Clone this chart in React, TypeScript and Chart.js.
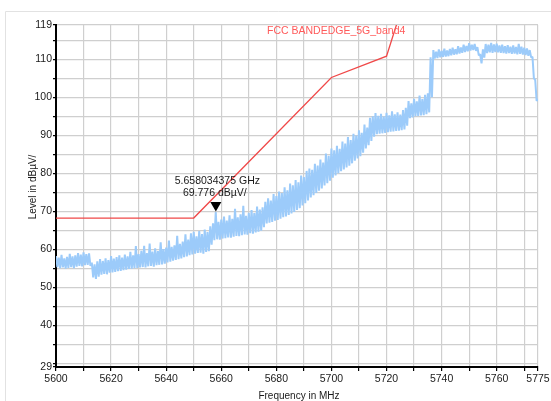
import { useEffect, useRef } from "react";
import { Chart, registerables } from "chart.js";

Chart.register(...registerables);

// Frequency axis (MHz)
const FREQ_START = 5600;
const FREQ_END = 5775;
const xTickValues = [
  5600, 5610, 5620, 5630, 5640, 5650, 5660, 5670, 5680, 5690, 5700, 5710,
  5720, 5730, 5740, 5750, 5760, 5770, 5775,
];

// Level axis (dBµV/)
const LEVEL_MIN = 29;
const LEVEL_MAX = 119;
const yTickValues = [
  29, 30, 35, 40, 45, 50, 55, 60, 65, 70, 75, 80, 85, 90, 95, 100, 105, 110,
  115, 119,
];

// FCC band-edge limit line
const limitName = "FCC BANDEDGE_5G_band4";
const limitFreq = [5600, 5650, 5700, 5720, 5725];
const limitLevel = [68.2, 68.2, 105.2, 110.8, 122.2];

// Measured trace: per-MHz peak and floor of the noisy sweep, 5600..5775 MHz
const traceHigh = [
  58.2, 57.8, 58.5, 57.6, 58.0, 58.8, 58.1, 58.4, 59.0, 58.6,
  59.2, 58.7, 58.9, 56.5, 56.0, 56.8, 57.4, 56.9, 57.6, 57.1,
  58.2, 57.5, 57.9, 58.4, 57.8, 58.6, 58.1, 59.3, 58.4, 60.8,
  58.7, 59.6, 60.9, 59.0, 61.5, 59.4, 60.2, 59.5, 61.8, 60.0,
  60.4, 62.3, 60.6, 61.0, 63.5, 61.4, 62.0, 63.9, 62.5, 64.2,
  64.6, 63.4, 64.8, 64.0, 65.2, 64.5, 66.0, 66.8, 69.8, 67.2,
  67.8, 68.6, 67.5, 68.9, 68.0, 70.6, 68.4, 69.2, 71.4, 68.8,
  69.6, 70.3, 69.5, 71.2, 70.4, 71.0, 72.5, 73.4, 72.8, 74.5,
  74.0, 75.2, 74.8, 76.3, 75.5, 77.3, 76.8, 78.2, 77.6, 79.4,
  79.0, 80.6, 81.2, 80.9, 82.5, 82.0, 83.6, 82.8, 85.2, 84.6,
  86.5, 86.0, 87.2, 86.4, 88.3, 87.8, 89.5, 88.7, 90.4, 89.9,
  91.3, 90.6, 92.8, 92.0, 94.6, 95.0, 95.8, 95.1, 95.6, 94.9,
  95.9, 95.2, 96.3, 95.5, 96.0, 95.4, 96.6, 97.2, 99.0, 98.4,
  99.6, 98.9, 100.4, 99.5, 100.6, 101.0, 110.5, 112.4, 112.0, 112.6,
  112.2, 112.8, 112.3, 112.7, 113.0, 112.6, 113.4, 113.1, 113.8, 113.5,
  114.2, 113.8, 114.0, 113.2, 111.3, 112.6, 114.0, 113.8, 114.3, 113.9,
  114.1, 113.6, 113.8, 113.4, 113.7, 113.3, 113.6, 113.2, 114.0, 113.3,
  113.0, 112.8, 112.4, 110.6, 104.5, 99.5,
];
const traceLow = [
  55.3, 55.0, 55.2, 54.9, 55.1, 55.3, 55.0, 55.4, 55.6, 55.5,
  55.8, 55.9, 55.6, 52.6, 52.2, 52.8, 53.3, 53.5, 53.4, 53.8,
  53.9, 54.0, 54.2, 54.3, 54.5, 54.6, 54.8, 54.9, 55.0, 55.1,
  55.2, 55.3, 55.2, 55.5, 55.6, 55.4, 55.8, 55.9, 56.0, 56.2,
  56.5, 56.7, 57.0, 57.2, 57.4, 57.6, 57.9, 58.1, 58.4, 58.6,
  58.8, 59.0, 59.1, 58.8, 59.3, 59.5, 61.2, 62.4, 62.6, 62.5,
  62.8, 62.9, 63.1, 63.0, 63.3, 63.5, 63.4, 63.7, 63.9, 63.8,
  64.2, 64.1, 64.4, 64.6, 64.9, 65.8, 66.8, 67.0, 67.2, 67.5,
  67.7, 68.0, 68.4, 68.6, 69.0, 69.4, 69.8, 70.3, 70.8, 71.5,
  72.1, 72.8, 73.6, 74.2, 74.8, 75.4, 76.0, 76.8, 77.4, 78.0,
  78.8, 79.4, 80.0, 80.5, 81.0, 81.5, 82.0, 82.6, 83.3, 83.9,
  84.5, 85.4, 86.5, 87.4, 88.5, 89.6, 90.3, 90.4, 90.5, 90.6,
  90.8, 90.9, 91.0, 91.1, 91.2, 91.3, 91.5, 92.5, 94.5, 94.7,
  95.0, 95.1, 95.2, 95.3, 95.5, 96.0, 100.0, 110.2, 110.3, 110.5,
  110.6, 110.7, 110.8, 111.0, 111.2, 111.3, 111.5, 111.7, 111.9, 112.1,
  112.3, 112.4, 112.2, 111.0, 108.9, 110.4, 111.6, 111.8, 111.7, 111.9,
  111.8, 111.7, 111.6, 111.5, 111.6, 111.4, 111.5, 111.3, 111.4, 111.2,
  111.1, 110.9, 110.5, 105.0, 99.0, 95.8,
];

// Peak marker
const markerFreqMHz = 5658.034375;
const markerLevel = 69.776;
const markerLines = ["5.658034375 GHz", "69.776 dBµV/"];

const xTitle = "Frequency in MHz";
const yTitle = "Level in dBµV/";

const FONT = '"Liberation Sans", Arial, Helvetica, sans-serif';

const overlayPlugin = {
  id: "overlay",
  beforeDraw(chart: any) {
    const { ctx } = chart;
    ctx.save();
    ctx.fillStyle = "#ffffff";
    ctx.fillRect(0, 0, chart.width, chart.height);
    ctx.strokeStyle = "#e2e2e2";
    ctx.lineWidth = 1;
    ctx.beginPath();
    ctx.moveTo(5.5, chart.height);
    ctx.lineTo(5.5, 11.5);
    ctx.lineTo(chart.width, 11.5);
    ctx.stroke();
    ctx.restore();
  },
  afterDatasetsDraw(chart: any) {
    const { ctx, chartArea } = chart;
    const xs = chart.scales.x;
    const ys = chart.scales.y;
    ctx.save();

    // limit line caption
    ctx.font = `10.5px ${FONT}`;
    ctx.fillStyle = "#ff5a5a";
    ctx.textAlign = "left";
    ctx.textBaseline = "middle";
    ctx.fillText(limitName, chartArea.left + 211, chartArea.top + 6);

    // marker triangle and readout
    const px = xs.getPixelForValue(markerFreqMHz);
    const py = ys.getPixelForValue(markerLevel);
    ctx.fillStyle = "#000000";
    ctx.beginPath();
    ctx.moveTo(px - 5.5, py - 10);
    ctx.lineTo(px + 5.5, py - 10);
    ctx.lineTo(px, py - 0.5);
    ctx.closePath();
    ctx.fill();

    ctx.fillStyle = "#1a1a1a";
    ctx.textAlign = "center";
    ctx.font = `10.5px ${FONT}`;
    ctx.fillText(markerLines[0], px + 1.5, py - 31);
    ctx.fillText(markerLines[1], px - 1, py - 19);

    // axis titles
    ctx.fillStyle = "#1a1a1a";
    ctx.font = `10px ${FONT}`;
    ctx.fillText(xTitle, (chartArea.left + chartArea.right) / 2 + 2, 396);
    ctx.translate(33, (chartArea.top + chartArea.bottom) / 2 - 9);
    ctx.rotate(-Math.PI / 2);
    ctx.fillText(yTitle, 0, 0);
    ctx.restore();
  },
};

export default function App() {
  const canvasRef = useRef<HTMLCanvasElement | null>(null);

  useEffect(() => {
    const canvas = canvasRef.current;
    if (!canvas) return;

    const tracePoints = traceHigh.flatMap((hi, i) => [
      { x: FREQ_START + i, y: hi },
      { x: FREQ_START + i + 0.5, y: traceLow[i] },
    ]);
    const limitPoints = limitFreq.map((f, i) => ({ x: f, y: limitLevel[i] }));

    const chart = new Chart(canvas, {
      type: "line",
      data: {
        datasets: [
          {
            label: limitName,
            data: limitPoints,
            borderColor: "#f04848",
            borderWidth: 1.3,
            pointRadius: 0,
            tension: 0,
            order: 0,
          },
          {
            label: "Trace",
            data: tracePoints,
            borderColor: "#9ccbfa",
            borderWidth: 2,
            borderJoinStyle: "bevel",
            pointRadius: 0,
            tension: 0,
            order: 1,
          },
        ],
      },
      plugins: [overlayPlugin],
      options: {
        animation: false,
        responsive: false,
        devicePixelRatio: 1,
        parsing: false,
        normalized: true,
        layout: { padding: { left: 0, top: 25, right: 13, bottom: 0 } },
        plugins: {
          legend: { display: false },
          tooltip: { enabled: false },
          title: { display: false },
        },
        scales: {
          x: {
            type: "linear",
            min: FREQ_START,
            max: FREQ_END,
            afterBuildTicks: (axis: any) => {
              axis.ticks = xTickValues.map((v) => ({ value: v }));
            },
            afterFit: (axis: any) => {
              axis.height = 34;
              axis.paddingLeft = 0;
              axis.paddingRight = 0;
            },
            ticks: {
              autoSkip: false,
              maxRotation: 0,
              minRotation: 0,
              padding: 2,
              color: "#1a1a1a",
              font: { family: FONT, size: 10.5 },
              callback: (v: any) => {
                const n = Number(v);
                return n % 20 === 0 || n === FREQ_END ? String(n) : "";
              },
            },
            grid: {
              color: "#cfcfcf",
              lineWidth: 1.2,
              tickColor: "#000000",
              tickLength: 4,
              drawTicks: true,
            },
            border: { color: "#000000", width: 2 },
          },
          y: {
            type: "linear",
            min: LEVEL_MIN,
            max: LEVEL_MAX,
            afterBuildTicks: (axis: any) => {
              axis.ticks = yTickValues.map((v) => ({ value: v }));
            },
            afterFit: (axis: any) => {
              axis.width = 56;
              axis.paddingTop = 0;
              axis.paddingBottom = 0;
            },
            ticks: {
              autoSkip: false,
              padding: 1,
              color: "#1a1a1a",
              font: { family: FONT, size: 10.5 },
              callback: (v: any) => {
                const n = Number(v);
                if (n === LEVEL_MIN || n === LEVEL_MAX) return String(n);
                return n % 10 === 0 && n > 30 ? String(n) : "";
              },
            },
            grid: {
              color: "#cfcfcf",
              lineWidth: 1.2,
              tickColor: "#000000",
              tickLength: 3,
              drawTicks: true,
            },
            border: { color: "#000000", width: 2 },
          },
        },
      },
    });

    return () => chart.destroy();
  }, []);

  return (
    <div
      style={{
        position: "fixed",
        left: 0,
        top: 0,
        width: 551,
        height: 401,
        background: "#ffffff",
      }}
    >
      <canvas ref={canvasRef} width={551} height={401} style={{ display: "block" }} />
    </div>
  );
}
